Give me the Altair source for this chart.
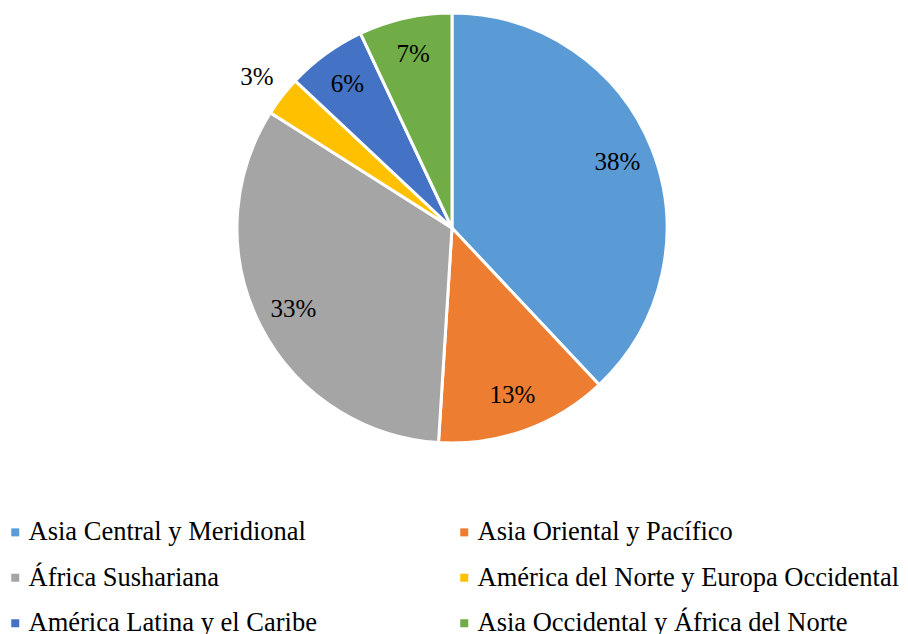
import altair as alt
import pandas as pd

categories = [
    "Asia Central y Meridional",
    "Asia Oriental y Pacífico",
    "África Sushariana",
    "América del Norte y Europa Occidental",
    "América Latina y el Caribe",
    "Asia Occidental y África del Norte",
]
values = [38, 13, 33, 3, 6, 7]
colors = ["#5B9BD5", "#ED7D31", "#A5A5A5", "#FFC000", "#4472C4", "#70AD47"]

df = pd.DataFrame({"region": categories, "value": values, "idx": list(range(len(values)))})
df["label"] = [f"{v}%" for v in values]

# legend fills column by column; interleave so it reads row by row
legend_order = [0, 2, 4, 1, 3, 5]
dom = [categories[i] for i in legend_order]
rng = [colors[i] for i in legend_order]

FONT = "Liberation Serif"
CX, CY, R = 452, 228, 215

base = alt.Chart(df).encode(
    theta=alt.Theta("value:Q", stack=True),
    order=alt.Order("idx:O"),
)

pie = base.mark_arc(stroke="white", strokeWidth=3).encode(
    x=alt.value(CX), y=alt.value(CY), radius=alt.value(R),
    color=alt.Color(
        "region:N",
        scale=alt.Scale(domain=dom, range=rng),
        legend=alt.Legend(
            title=None, orient="none", legendX=2, legendY=519, columns=2,
            symbolType="square", symbolSize=64, symbolStrokeWidth=0,
            labelFont=FONT, labelFontSize=26.5, labelColor="black",
            labelLimit=600, rowPadding=18.5, columnPadding=134,
            labelOffset=0,
        ),
    ),
)

inner = base.mark_text(font=FONT, fontSize=25, color="black").encode(
    x=alt.value(CX), y=alt.value(CY), radius=alt.value(178),
    text=alt.condition(alt.datum.value > 4, "label:N", alt.value("")),
)

outer = base.mark_text(font=FONT, fontSize=25, color="black").encode(
    x=alt.value(CX), y=alt.value(CY), radius=alt.value(247),
    text=alt.condition(alt.datum.value <= 4, "label:N", alt.value("")),
)

chart = alt.layer(pie, inner, outer).properties(
    width=908, height=634, padding=0, autosize=alt.AutoSizeParams(type="none")
).configure_view(strokeWidth=0)

chart.save("out.html", embed_options={"renderer": "svg", "actions": False})
